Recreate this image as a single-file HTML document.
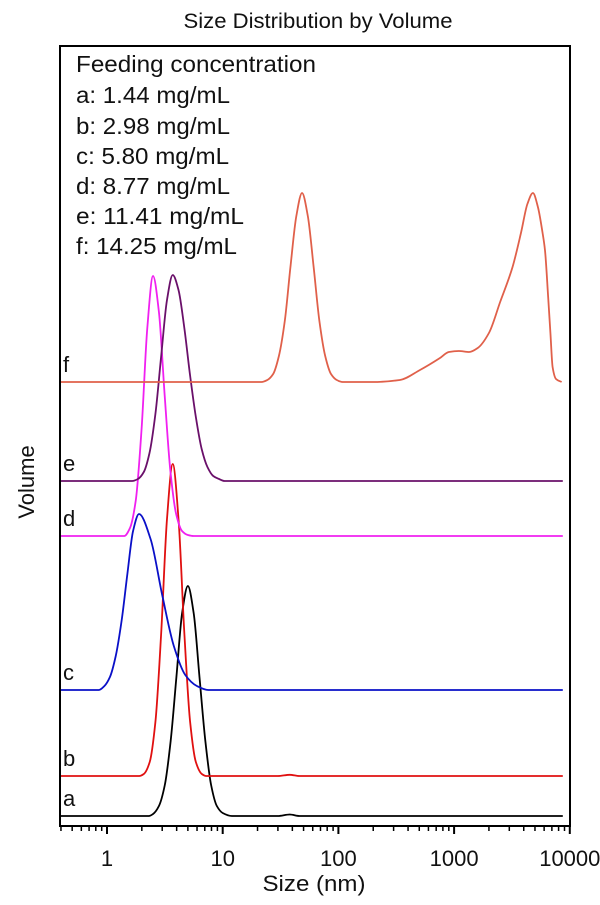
<!DOCTYPE html>
<html><head><meta charset="utf-8"><style>
body{margin:0;background:#fff}
svg text{font-family:"Liberation Sans",Arial,sans-serif;fill:#111}
</style></head><body>
<svg width="600" height="900" viewBox="0 0 600 900">
<text x="318" y="28" font-size="21" textLength="269" lengthAdjust="spacingAndGlyphs" text-anchor="middle">Size Distribution by Volume</text>
<rect x="60" y="46" width="510" height="780" fill="none" stroke="#000" stroke-width="2"/>
<g id="ticks"></g>
<g id="curves"></g>
<g font-size="23">
<text x="76" y="72" textLength="240" lengthAdjust="spacingAndGlyphs">Feeding concentration</text>
<text x="76" y="103" textLength="154" lengthAdjust="spacingAndGlyphs">a: 1.44 mg/mL</text>
<text x="76" y="134" textLength="154" lengthAdjust="spacingAndGlyphs">b: 2.98 mg/mL</text>
<text x="76" y="164" textLength="153" lengthAdjust="spacingAndGlyphs">c: 5.80 mg/mL</text>
<text x="76" y="194" textLength="154" lengthAdjust="spacingAndGlyphs">d: 8.77 mg/mL</text>
<text x="76" y="224" textLength="168" lengthAdjust="spacingAndGlyphs">e: 11.41 mg/mL</text>
<text x="76" y="254" textLength="161" lengthAdjust="spacingAndGlyphs">f: 14.25 mg/mL</text>
</g>
<text x="314" y="891" font-size="22" textLength="103" lengthAdjust="spacingAndGlyphs" text-anchor="middle">Size (nm)</text>
<text transform="translate(34,482) rotate(-90)" font-size="22" text-anchor="middle">Volume</text>
</svg>
<script>
const tickLabels=["1","10","100","1000","10000"];
const tickValues=[1,10,100,1000,10000];
const seriesNames=["a","b","c","d","e","f"];
const seriesColors=["#000000","#e01010","#0a10c8","#f020f0","#6a106a","#e0604a"];
const seriesOffsets=[10,50,136,290,345,444];
const sizesA=[0.4,2.3,2.5,2.81,3.16,3.55,3.98,4.46,5.0,5.61,6.3,7.08,7.94,8.9,10,12,30,38,46,8700];
const volA=[0,0,2,10,31,75,139,203,230,203,139,75,31,10,3,0,0,1.5,0,0];
const sizesB=[0.4,1.9,2.08,2.34,2.62,2.94,3.30,3.7,4.15,4.66,5.23,5.86,6.6,7.2,30,38,46,8700];
const volB=[0,0,2,14,54,143,257,312,257,143,54,14,2,0,0,1.2,0,0];
const sizesC=[0.4,0.85,0.95,1.06,1.19,1.34,1.50,1.68,1.89,2.38,3.0,3.78,4.75,5.98,7.5,8700];
const volC=[0,0,4,13,34,70,116,159,176,151,95,44,15,4,0,0];
const sizesD=[0.4,1.38,1.41,1.58,1.77,1.99,2.23,2.5,2.81,3.15,3.53,3.96,4.45,5.0,5.6,8700];
const volD=[0,0,0,8,35,107,208,260,224,141,65,22,5,1,0,0];
const sizesE=[0.4,1.65,1.85,2.08,2.33,2.62,2.94,3.30,3.7,4.15,4.66,5.22,5.86,6.58,7.38,8.28,9.29,10.4,11.5,8700];
const volE=[0,0,2,9,28,67,125,181,206,191,153,106,64,32,14,5,2,0,0,0];
const sizesF=[0.4,21.7,24.3,27.3,30.6,34.4,38.5,43.3,48.5,54.4,61.1,68.5,76.9,86.3,96.8,108.6,200,340,507,755,900,1100,1350,1600,2000,2500,3200,3800,4300,4800,5300,5800,6100,6500,6800,7100,7600,8500];
const volF=[0,0,2,8,26,61,115,166,189,166,115,61,26,8,2,0,0,2,12,24,30,31,30,34,49,80,115,150,178,189,175,150,132,85,49,15,3,0];
const allSizes=[sizesA,sizesB,sizesC,sizesD,sizesE,sizesF];
const allVols=[volA,volB,volC,volD,volE,volF];

const NS="http://www.w3.org/2000/svg";
function xScale(s){return 107+115.7*Math.log10(s);}
function yScale(v){return 826-v;}
const tg=document.getElementById('ticks');
function mk(tag,attrs,parent){const e=document.createElementNS(NS,tag);for(const k in attrs)e.setAttribute(k,attrs[k]);parent.appendChild(e);return e;}
for(let d=-1;d<=4;d++){for(let m=1;m<=9;m++){const v=m*Math.pow(10,d);const x=xScale(v);if(x<60||x>571)continue;
const t=mk('line',{x1:x,x2:x,y1:826,y2:826+(m===1?8:5),stroke:'#000','stroke-width':m===1?2:1.5},tg);

}}
tickValues.forEach((v,i)=>{const t=mk('text',{x:xScale(v),y:866,'font-size':22,'text-anchor':'middle'},tg);t.textContent=tickLabels[i];

});
const cg=document.getElementById('curves');
// monotone cubic (Fritsch-Carlson) path, sampled densely
function monoPath(xs,ys){const n=xs.length,dx=[],m=[],t=new Array(n);
for(let i=0;i<n-1;i++){dx[i]=xs[i+1]-xs[i];m[i]=dx[i]>0?(ys[i+1]-ys[i])/dx[i]:0;}
t[0]=m[0];t[n-1]=m[n-2];
for(let i=1;i<n-1;i++){if(m[i-1]*m[i]<=0)t[i]=0;else{const w1=2*dx[i]+dx[i-1],w2=dx[i]+2*dx[i-1];t[i]=(w1+w2)/(w1/m[i-1]+w2/m[i]);}}
let d='M'+xs[0].toFixed(1)+','+ys[0].toFixed(1);
for(let i=0;i<n-1;i++){if(dx[i]<=0)continue;const h=dx[i];
d+=' C'+(xs[i]+h/3).toFixed(2)+','+(ys[i]+t[i]*h/3).toFixed(2)+' '+(xs[i+1]-h/3).toFixed(2)+','+(ys[i+1]-t[i+1]*h/3).toFixed(2)+' '+xs[i+1].toFixed(2)+','+ys[i+1].toFixed(2);}
return d;}
seriesNames.forEach((n,i)=>{const xs=allSizes[i].map(s=>Math.max(61,xScale(s)));const ys=allVols[i].map(v=>yScale(seriesOffsets[i]+v));
const p=mk('path',{d:monoPath(xs,ys),fill:'none',stroke:seriesColors[i],'stroke-width':1.8},cg);


const t=mk('text',{x:63,y:yScale(seriesOffsets[i])-10,'font-size':22},cg);t.textContent=n;

});
</script>
</body></html>
